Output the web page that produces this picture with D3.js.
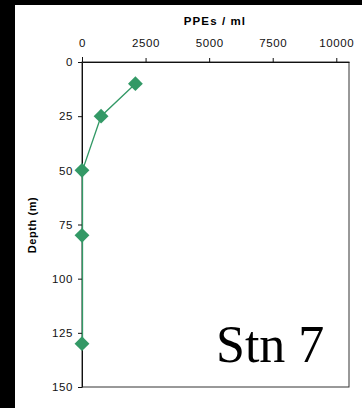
<!DOCTYPE html>
<html>
<head>
<meta charset="utf-8">
<script src="https://cdn.jsdelivr.net/npm/d3@7"></script>
<style>
    html, body { margin: 0; padding: 0; background: #000; }
    svg { display: block; }
    .axis text { font-family: "Liberation Sans", Arial, sans-serif; font-size: 11.5px; letter-spacing: 0.6px; fill: #111; }
    .axis line, .axis path { stroke: #111; }
</style>
</head>
<body>
<script>
(function () {

    // Data
    var depths = [10, 25, 50, 80, 130];
    var ppes = [2100, 750, 0, 0, 0];
    var xTicks = [0, 2500, 5000, 7500, 10000];
    var yTicks = [0, 25, 50, 75, 100, 125, 150];

    var seriesColor = "#339966";

    var W = 362, H = 408;
    var plot = {left: 82, right: 349, top: 62, bottom: 387};

    var svg = d3.select("body")
        .append("svg")
        .attr("width", W)
        .attr("height", H);

    // black frame + white panel
    svg.append("rect").attr("width", W).attr("height", H).attr("fill", "#000");
    svg.append("rect")
        .attr("x", 15).attr("y", 5)
        .attr("width", W - 15).attr("height", H - 5)
        .attr("fill", "#fff");

    var x = d3.scaleLinear()
        .domain([0, 10500])
        .range([plot.left, plot.right]);

    var y = d3.scaleLinear()
        .domain([0, 150])
        .range([plot.top, plot.bottom]);

    // plot area border (right / bottom)
    svg.append("rect")
        .attr("x", plot.left).attr("y", plot.top)
        .attr("width", plot.right - plot.left)
        .attr("height", plot.bottom - plot.top)
        .attr("fill", "none")
        .attr("stroke", "#333")
        .attr("stroke-width", 1);

    // top axis
    svg.append("g")
        .attr("class", "axis")
        .attr("transform", "translate(0," + plot.top + ")")
        .call(d3.axisTop(x).tickValues(xTicks).tickSize(4).tickSizeOuter(0).tickPadding(11).tickFormat(d3.format("d")));

    // left axis
    svg.append("g")
        .attr("class", "axis")
        .attr("transform", "translate(" + plot.left + ",0)")
        .call(d3.axisLeft(y).tickValues(yTicks).tickSize(4).tickSizeOuter(0).tickPadding(5));

    // left axis pokes a little above the top axis
    svg.append("line")
        .attr("x1", plot.left + 0.5).attr("x2", plot.left + 0.5)
        .attr("y1", plot.top - 5).attr("y2", plot.top)
        .attr("stroke", "#111");

    // Axis titles
    svg.append("text")
        .attr("x", 215)
        .attr("y", 25)
        .attr("text-anchor", "middle")
        .style("font-family", "Liberation Sans, Arial, sans-serif")
        .style("font-size", "11.5px")
        .style("letter-spacing", "1.1px")
        .style("font-weight", "bold")
        .text("PPEs / ml");

    svg.append("text")
        .attr("transform", "translate(36,225) rotate(-90)")
        .attr("text-anchor", "middle")
        .style("font-family", "Liberation Sans, Arial, sans-serif")
        .style("font-size", "11px")
        .style("letter-spacing", "0.6px")
        .style("font-weight", "bold")
        .text("Depth (m)");

    // Series line
    var pts = depths.map(function (d, i) { return {depth: d, val: ppes[i]}; });

    svg.append("path")
        .datum(pts)
        .attr("fill", "none")
        .attr("stroke", seriesColor)
        .attr("stroke-width", 1.3)
        .attr("d", d3.line()
            .x(function (d) { return x(d.val) + (d.val === 0 ? 0.5 : 0); })
            .y(function (d) { return y(d.depth); }));

    // Diamond markers
    svg.selectAll(".marker")
        .data(pts)
        .enter().append("path")
        .attr("class", "marker")
        .attr("d", d3.symbol().type(d3.symbolSquare).size(110))
        .attr("transform", function (d) {
            return "translate(" + x(d.val) + "," + y(d.depth) + ") rotate(45)";
        })
        .attr("fill", seriesColor);

    // Station label
    svg.append("text")
        .attr("x", 216)
        .attr("y", 362)
        .style("font-family", "Liberation Serif, 'Times New Roman', serif")
        .style("font-size", "52px")
        .style("fill", "#000")
        .text("Stn 7");

})();
</script>
</body>
</html>
